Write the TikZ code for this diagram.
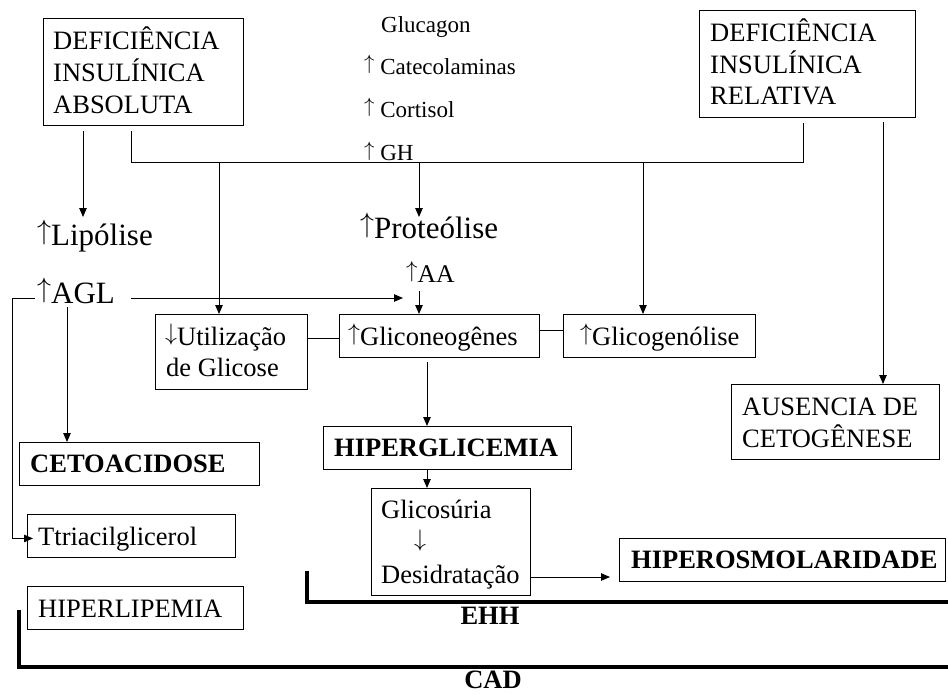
\documentclass[tikz,border=0pt]{standalone}
\usepackage{graphicx}
\usepackage{fontspec}
\setmainfont{Liberation Serif}
\usetikzlibrary{arrows.meta}
\newcommand{\up}{\raisebox{0.175em}{\resizebox*{!}{0.8em}{$\uparrow$}}}
\newcommand{\dn}{\raisebox{0.175em}{\resizebox*{!}{0.8em}{$\downarrow$}}}
\begin{document}
\begin{tikzpicture}[x=1pt,y=-1pt,
 box/.style={draw, line width=0.9pt, inner sep=0pt, anchor=north west},
 tx/.style={inner sep=0pt, anchor=base west, font=\fontsize{26.5}{32}\selectfont},
 tb/.style={tx, font=\fontsize{26.5}{32}\selectfont\bfseries},
 ts/.style={tx, font=\fontsize{23}{28}\selectfont},
 tl/.style={tx, font=\fontsize{31}{36}\selectfont},
 ln/.style={line width=0.9pt},
 arr/.style={ln, -{Triangle[length=9pt,width=7.5pt]}},
 brk/.style={line width=3.5pt}]
\useasboundingbox (0,0) rectangle (948,694);

% boxes
\node[box, minimum width=200pt, minimum height=107pt] (abs) at (43,18) {};
\node[box, minimum width=216pt, minimum height=107pt] (rel) at (699,10) {};
\node[box, minimum width=152pt, minimum height=75pt] (util) at (155,314) {};
\node[box, minimum width=200pt, minimum height=43pt] (gli) at (339,314) {};
\node[box, minimum width=192pt, minimum height=43pt] (glic) at (563,314) {};
\node[box, minimum width=208pt, minimum height=75pt] (aus) at (731,384) {};
\node[box, minimum width=240pt, minimum height=43pt] (ceto) at (19,442) {};
\node[box, minimum width=248pt, minimum height=43pt] (hip) at (323,426) {};
\node[box, minimum width=159pt, minimum height=107pt] (glyc) at (371,488) {};
\node[box, minimum width=208pt, minimum height=43pt] (tri) at (27,514) {};
\node[box, minimum width=216pt, minimum height=43pt] (hl) at (27,586) {};
\node[box, minimum width=326pt, minimum height=43pt] (hos) at (619,538) {};

% texts
\node[tx] (absa) at (53,49) {DEFICIÊNCIA};
\node[tx] (absb) at (53,81) {INSULÍNICA};
\node[tx] (absc) at (53,113) {ABSOLUTA};
\node[tx] (rela) at (710,41) {DEFICIÊNCIA};
\node[tx] (relb) at (710,73) {INSULÍNICA};
\node[tx] (relc) at (710,104) {RELATIVA};
\node[ts] (glu) at (381,32) {Glucagon};
\node[ts] (cat) at (364,74) {\up{} Catecolaminas};
\node[ts] (cor) at (364,117) {\up{} Cortisol};
\node[ts] (gh) at (364,160.5) {\up{} GH};
\node[tl] (lip) at (37,245) {\up{}Lipólise};
\node[tl] (pro) at (360,238) {\up{}Proteólise};
\node[tl] (agl) at (37,303) {\up{}AGL};
\node[tx, font=\fontsize{25.5}{30}\selectfont] (aa) at (406,282) {\up{}AA};
\node[tx] (utila) at (165,345) {\dn{}Utilização};
\node[tx] (utilb) at (166,376) {de Glicose};
\node[tx] (glit) at (348,345) {\up{}Gliconeogênes};
\node[tx] (glict) at (580,345) {\up{}Glicogenólise};
\node[tx] (ausa) at (742,415) {AUSENCIA DE};
\node[tx] (ausb) at (742,447) {CETOGÊNESE};
\node[tb] (cetot) at (30,472) {CETOACIDOSE};
\node[tb] (hipt) at (334,456) {HIPERGLICEMIA};
\node[tx] (glyca) at (381,518) {Glicosúria};
\node[tx] (glycb) at (414,551) {\dn};
\node[tx] (glycc) at (381,583) {Desidratação};
\node[tx] (trit) at (38,545) {Ttriacilglicerol};
\node[tx] (hlt) at (38,617) {HIPERLIPEMIA};
\node[tb] (host) at (631,568) {HIPEROSMOLARIDADE};
\node[tb, anchor=base] (ehh) at (490,624) {EHH};
\node[tb, anchor=base] (cad) at (493,688) {CAD};

% coordinates
\coordinate (busL) at (131,162);
\coordinate (busR) at (803,162);
\coordinate (d1) at (219,162);
\coordinate (d2) at (419,162);
\coordinate (d3) at (643,162);
\coordinate (proin) at (419,217);
\coordinate (lipin) at (83,217);
\coordinate (r1) at (883,122);
\coordinate (aglR) at (131,298);
\coordinate (aaL) at (403,298);
\coordinate (aaout) at (419,291);
\coordinate (aglD) at (67,307);
\coordinate (aglL) at (35,298);
\coordinate (loopC) at (12,298);
\coordinate (g1) at (427,362);
\coordinate (hoin) at (610,577);
\coordinate (ehhA) at (307,571);
\coordinate (ehhB) at (307,602);
\coordinate (ehhC) at (950,602);
\coordinate (cadA) at (19,610);
\coordinate (cadB) at (19,667);
\coordinate (cadC) at (950,667);

% connectors
\draw[arr] ([shift={(40,5)}]abs.south west) -- (lipin);
\draw[ln] ([shift={(88,5)}]abs.south west) -- (busL) -- (busR) -- ([shift={(104,5)}]rel.south west);
\draw[arr] (d1) -- (d1 |- util.north);
\draw[arr] (d2) -- (proin);
\draw[arr] (d3) -- (d3 |- glic.north);
\draw[arr] (r1) -- (r1 |- aus.north);
\draw[arr] (aglR) -- (aaL);
\draw[arr] (aaout) -- (aaout |- gli.north);
\draw[arr] (aglD) -- (aglD |- ceto.north);
\draw[arr] (aglL) -- (loopC) |- ([shift={(6,2.5)}]tri.west);
\draw[ln] ([yshift=-2.5pt]gli.west) -- ([yshift=-2.5pt]gli.west -| util.east);
\draw[ln] ([yshift=5.5pt]gli.east) -- ([yshift=5.5pt]gli.east -| glic.west);
\draw[arr] (g1) -- (g1 |- hip.north);
\draw[arr] (g1 |- hip.south) -- (g1 |- glyc.north);
\draw[arr] (hoin -| glyc.east) -- (hoin);
\draw[brk] (ehhA) -- (ehhB) -- (ehhC);
\draw[brk] (cadA) -- (cadB) -- (cadC);
\end{tikzpicture}
\end{document}
